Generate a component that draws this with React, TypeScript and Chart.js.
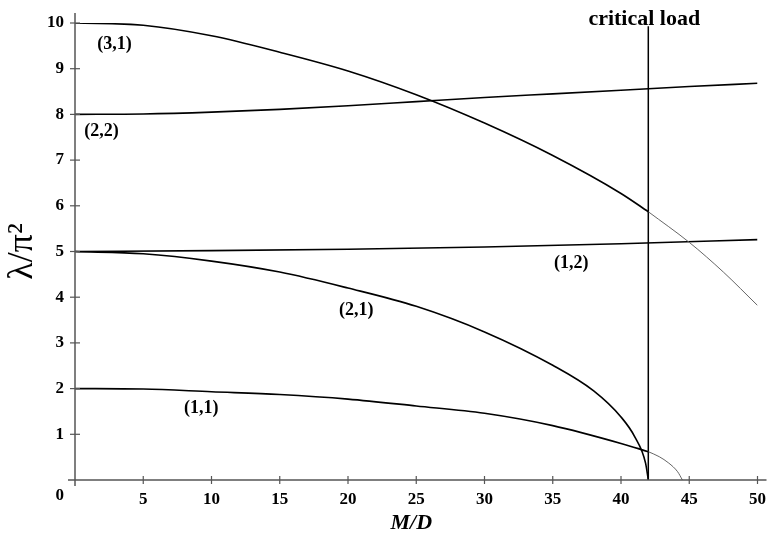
import React, { useEffect, useRef } from "react";
import { Chart, registerables } from "chart.js";

Chart.register(...registerables);

// ---- data ----
const xTickValues = [0, 5, 10, 15, 20, 25, 30, 35, 40, 45, 50];
const yTickValues = [0, 1, 2, 3, 4, 5, 6, 7, 8, 9, 10];

const md31 = [0, 5, 10, 15, 20, 25, 30, 35, 40, 42];
const lam31 = [10, 9.95, 9.72, 9.36, 8.95, 8.43, 7.81, 7.1, 6.27, 5.87];
const md31Post = [42, 45, 47.5, 50];
const lam31Post = [5.87, 5.2, 4.55, 3.82];

const md22 = [0, 5, 10, 15, 20, 25, 30, 35, 40, 45, 50];
const lam22 = [8, 8.01, 8.05, 8.11, 8.19, 8.28, 8.37, 8.45, 8.53, 8.61, 8.68];

const md12 = [0, 10, 20, 30, 40, 50];
const lam12 = [5, 5.02, 5.05, 5.1, 5.17, 5.26];

const md21 = [0, 5, 10, 15, 20, 25, 30, 35, 38, 40, 41, 41.8, 42];
const lam21 = [5, 4.95, 4.79, 4.55, 4.2, 3.8, 3.24, 2.51, 1.95, 1.38, 0.95, 0.37, 0];

const md11 = [0, 5, 10, 15, 20, 25, 30, 35, 40, 42];
const lam11 = [2, 1.99, 1.93, 1.87, 1.77, 1.62, 1.46, 1.19, 0.8, 0.62];
const md11Post = [42, 42.8, 43.5, 44.15, 44.5];
const lam11Post = [0.62, 0.51, 0.37, 0.18, 0];

const criticalMD = 42;
const criticalTop = 9.93;

const modeLabels = ["(3,1)", "(2,2)", "(1,2)", "(2,1)", "(1,1)"];
const modeLabelMD = [2.89, 1.94, 36.35, 20.6, 9.25];
const modeLabelLam = [9.54, 7.62, 4.74, 3.71, 1.56];

const SERIF = '"Liberation Serif", "Times New Roman", serif';

const pts = (xs: number[], ys: number[]) => xs.map((x, i) => ({ x, y: ys[i] }));

const mainLine = (xs: number[], ys: number[]) => ({
  data: pts(xs, ys),
  borderColor: "#000",
  borderWidth: 1.6,
  pointRadius: 0,
  cubicInterpolationMode: "monotone" as const,
  fill: false,
});
const thinLine = (xs: number[], ys: number[]) => ({
  data: pts(xs, ys),
  borderColor: "#666",
  borderWidth: 1,
  pointRadius: 0,
  cubicInterpolationMode: "monotone" as const,
  fill: false,
});

const decorPlugin = {
  id: "decor",
  afterDatasetsDraw(chart: any) {
    const { ctx, scales, chartArea } = chart;
    const xs = scales.x;
    const ys = scales.y;
    const x0 = xs.getPixelForValue(0);
    const y0 = ys.getPixelForValue(0);
    const yTop = ys.getPixelForValue(10);
    ctx.save();
    ctx.strokeStyle = "#555";
    ctx.lineWidth = 1.5;
    const line = (a: number, b: number, c: number, d: number) => {
      ctx.beginPath();
      ctx.moveTo(a, b);
      ctx.lineTo(c, d);
      ctx.stroke();
    };
    // axes
    line(x0, yTop - 10, x0, y0 + 6);
    line(x0 - 7, y0, xs.right + 9, y0);
    ctx.lineWidth = 1.2;
    yTickValues.forEach((v) => {
      if (v === 0) return;
      const py = ys.getPixelForValue(v);
      line(x0 - 5, py, x0 + 5, py);
    });
    xTickValues.forEach((v) => {
      if (v === 0) return;
      const px = xs.getPixelForValue(v);
      line(px, y0 - 4, px, y0 + 4);
    });

    ctx.fillStyle = "#000";
    // corner zero
    ctx.font = `bold 17px ${SERIF}`;
    ctx.textAlign = "right";
    ctx.textBaseline = "middle";
    ctx.fillText("0", x0 - 11, y0 + 16);

    // mode labels
    ctx.font = `bold 18px ${SERIF}`;
    ctx.textAlign = "center";
    modeLabels.forEach((t, i) => {
      ctx.fillText(t, xs.getPixelForValue(modeLabelMD[i]), ys.getPixelForValue(modeLabelLam[i]));
    });

    // critical load
    ctx.font = `bold 22px ${SERIF}`;
    ctx.textBaseline = "alphabetic";
    ctx.fillText("critical load", xs.getPixelForValue(criticalMD) - 4, 25);

    // x title
    ctx.font = `italic bold 22px ${SERIF}`;
    ctx.textBaseline = "middle";
    ctx.fillText("M/D", (chartArea.left + chartArea.right) / 2 - 5, 523);

    // y title
    ctx.save();
    ctx.translate(chartArea.left - 52, (chartArea.top + chartArea.bottom) / 2);
    ctx.rotate(-Math.PI / 2);
    ctx.font = `36px ${SERIF}`;
    ctx.textAlign = "center";
    ctx.textBaseline = "middle";
    ctx.fillText("λ/π²", 0, 0);
    ctx.restore();

    ctx.restore();
  },
};

export default function App() {
  const ref = useRef<HTMLCanvasElement | null>(null);
  useEffect(() => {
    if (!ref.current) return;
    const chart = new Chart(ref.current, {
      type: "line",
      data: {
        datasets: [
          mainLine(md31, lam31),
          thinLine(md31Post, lam31Post),
          mainLine(md22, lam22),
          mainLine(md12, lam12),
          mainLine(md21, lam21),
          mainLine(md11, lam11),
          thinLine(md11Post, lam11Post),
          {
            data: pts([criticalMD, criticalMD], [0, criticalTop]),
            borderColor: "#000",
            borderWidth: 1.5,
            pointRadius: 0,
            tension: 0,
            fill: false,
          },
        ] as any,
      },
      options: {
        animation: false,
        responsive: false,
        maintainAspectRatio: false,
        layout: { padding: { top: 23, right: 13, left: 0, bottom: 0 } },
        plugins: { legend: { display: false }, tooltip: { enabled: false } },
        scales: {
          x: {
            type: "linear",
            min: 0,
            max: 50,
            afterFit: (s: any) => {
              s.height = 64;
            },
            grid: { display: false, drawTicks: false },
            border: { display: false },
            ticks: {
              stepSize: 5,
              padding: 9,
              color: "#000",
              font: { family: SERIF, size: 17, weight: "bold" },
              callback: (v: any) => (v === 0 ? "" : String(v)),
              maxRotation: 0,
            },
          },
          y: {
            type: "linear",
            min: 0,
            max: 10,
            afterFit: (s: any) => {
              s.width = 75;
            },
            grid: { display: false, drawTicks: false },
            border: { display: false },
            ticks: {
              stepSize: 1,
              padding: 11,
              color: "#000",
              font: { family: SERIF, size: 17, weight: "bold" },
              callback: (v: any) => (v === 0 ? "" : String(v)),
            },
          },
        },
      } as any,
      plugins: [decorPlugin],
    });
    return () => chart.destroy();
  }, []);
  return (
    <div style={{ position: "absolute", left: 0, top: 0, width: 775, height: 544, background: "#fff" }}>
      <canvas ref={ref} width={775} height={544} style={{ width: 775, height: 544 }} />
    </div>
  );
}
